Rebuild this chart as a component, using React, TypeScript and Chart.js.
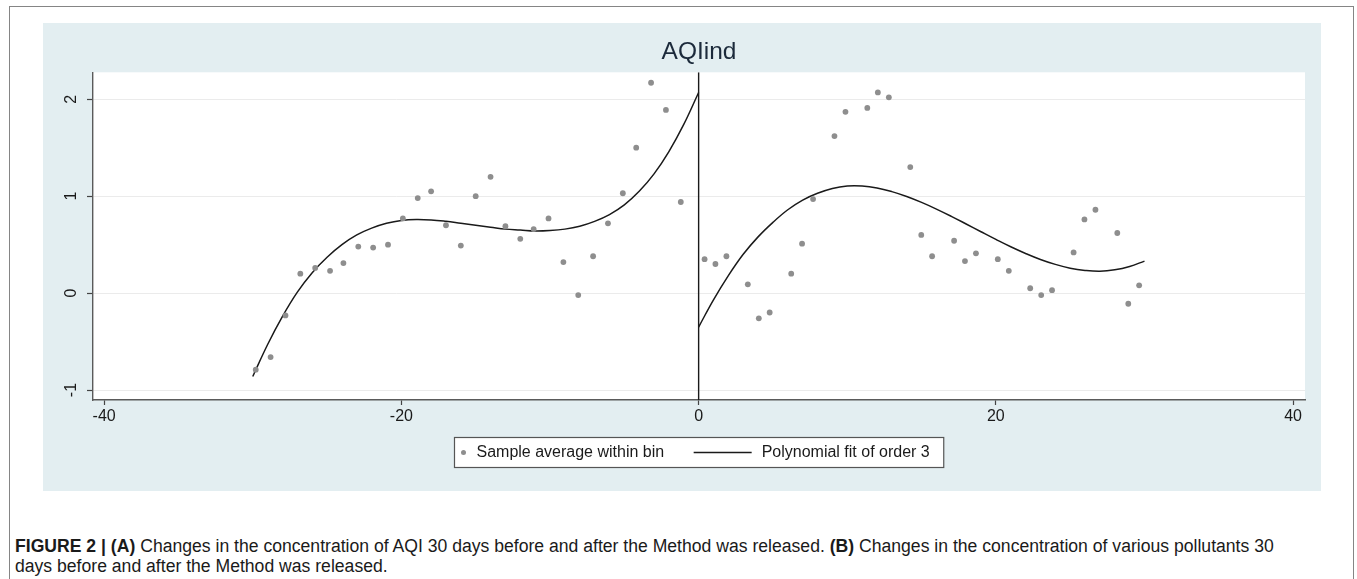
import React, { useEffect, useRef } from "react";
import { Chart, registerables } from "chart.js";

Chart.register(...registerables);

// ---- data ----
const chartTitle = "AQIind";
const legendLabels = ["Sample average within bin", "Polynomial fit of order 3"];

const binX = [
  -29.8, -28.8, -27.8, -26.8, -25.8, -24.8, -23.9, -22.9, -21.9, -20.9,
  -19.9, -18.9, -18.0, -17.0, -16.0, -15.0, -14.0, -13.0, -12.0, -11.1,
  -10.1, -9.1, -8.1, -7.1, -6.1, -5.1, -4.2, -3.2, -2.2, -1.2,
  0.4, 1.13, 1.87, 3.31, 4.05, 4.78, 6.23, 6.96, 7.7, 9.14,
  9.88, 11.35, 12.06, 12.8, 14.24, 14.98, 15.71, 17.19, 17.92, 18.66,
  20.13, 20.87, 22.31, 23.05, 23.78, 25.23, 25.96, 26.7, 28.17, 28.91, 29.64,
];
const binY = [
  -0.79, -0.66, -0.23, 0.2, 0.26, 0.23, 0.31, 0.48, 0.47, 0.5,
  0.77, 0.98, 1.05, 0.7, 0.49, 1.0, 1.2, 0.69, 0.56, 0.66,
  0.77, 0.32, -0.02, 0.38, 0.72, 1.03, 1.5, 2.17, 1.89, 0.94,
  0.35, 0.3, 0.38, 0.09, -0.26, -0.2, 0.2, 0.51, 0.97, 1.62,
  1.87, 1.91, 2.07, 2.02, 1.3, 0.6, 0.38, 0.54, 0.33, 0.41,
  0.35, 0.23, 0.05, -0.02, 0.03, 0.42, 0.76, 0.86, 0.62, -0.11, 0.08,
];

const fitLeftX = [
  -30, -29, -28, -27, -26, -25, -24, -23, -22, -21, -20, -19, -18, -17, -16,
  -15, -14, -13, -12, -11, -10, -9, -8, -7, -6, -5, -4, -3, -2, -1, 0,
];
const fitLeftY = [
  -0.86, -0.53, -0.24, 0.01, 0.21, 0.37, 0.5, 0.6, 0.67, 0.72, 0.75, 0.76, 0.755, 0.74, 0.72,
  0.7, 0.68, 0.66, 0.65, 0.64, 0.645, 0.66, 0.69, 0.74, 0.81, 0.91, 1.05, 1.23, 1.46, 1.74, 2.07,
];

const fitRightX = [
  0, 1, 2, 3, 4, 5, 6, 7, 8, 9, 10, 11, 12, 13, 14, 15,
  16, 17, 18, 19, 20, 21, 22, 23, 24, 25, 26, 27, 28, 29, 30,
];
const fitRightY = [
  -0.35, -0.07, 0.18, 0.4, 0.58, 0.73, 0.86, 0.96, 1.03, 1.08, 1.105, 1.105, 1.085, 1.047, 0.997, 0.936,
  0.867, 0.792, 0.713, 0.633, 0.554, 0.478, 0.409, 0.347, 0.296, 0.257, 0.234, 0.225, 0.24, 0.275, 0.33,
];

const cutoffX = 0;
const xTicks = [-40, -20, 0, 20, 40];
const yTicks = [-1, 0, 1, 2];
const xMin = -40.75;
const xMax = 40.8;
const yMin = -1.103;
const yMax = 2.278;

// ---- styles ----
const PANEL = "#e3eef1";
const FONT = '"Liberation Sans", Arial, Helvetica, sans-serif';
const DOT = "#8e8e8e";
const INK = "#1a1a1a";

const panelPlugin = {
  id: "panelBg",
  beforeDraw(chart: any) {
    const { ctx, chartArea: a, width, height } = chart;
    ctx.save();
    ctx.fillStyle = PANEL;
    ctx.fillRect(0, 0, width, height);
    ctx.fillStyle = "#ffffff";
    ctx.fillRect(a.left, a.top, a.right - a.left, a.bottom - a.top);
    ctx.restore();
  },
};

const legendPlugin = {
  id: "stataLegend",
  afterDraw(chart: any) {
    const { ctx, chartArea: a } = chart;
    const t1 = legendLabels[0];
    const t2 = legendLabels[1];
    ctx.save();
    ctx.font = `16px ${FONT}`;
    const w1 = ctx.measureText(t1).width;
    const w2 = ctx.measureText(t2).width;
    const padL = 22, gap1 = 29.5, lineLen = 58, gap2 = 10, padR = 14;
    const W = padL + w1 + gap1 + lineLen + gap2 + w2 + padR;
    const H = 30;
    const cx = (a.left + a.right) / 2;
    const left = Math.round(cx - W / 2) + 0.5;
    const top = Math.round(a.bottom + 37) + 0.5;
    ctx.fillStyle = "#ffffff";
    ctx.fillRect(left, top, W, H);
    ctx.strokeStyle = "#555555";
    ctx.lineWidth = 1.2;
    ctx.strokeRect(left, top, W, H);
    const midY = top + H / 2;
    ctx.fillStyle = DOT;
    ctx.beginPath();
    ctx.arc(left + 9, midY, 2.5, 0, Math.PI * 2);
    ctx.fill();
    ctx.fillStyle = INK;
    ctx.textBaseline = "middle";
    ctx.textAlign = "left";
    ctx.fillText(t1, left + padL, midY + 0.5);
    const lx = left + padL + w1 + gap1;
    ctx.strokeStyle = INK;
    ctx.lineWidth = 1.4;
    ctx.beginPath();
    ctx.moveTo(lx, midY);
    ctx.lineTo(lx + lineLen, midY);
    ctx.stroke();
    ctx.fillText(t2, lx + lineLen + gap2, midY + 0.5);
    ctx.restore();
  },
};

function pts(xs: number[], ys: number[]) {
  return xs.map((x, i) => ({ x, y: ys[i] }));
}

function AQIChart() {
  const ref = useRef<HTMLCanvasElement | null>(null);
  useEffect(() => {
    if (!ref.current) return;
    const lineStyle = {
      showLine: true,
      borderColor: INK,
      borderWidth: 1.5,
      pointRadius: 0,
      tension: 0.4,
      fill: false,
    };
    const chart = new Chart(ref.current, {
      type: "scatter",
      data: {
        datasets: [
          {
            label: legendLabels[0],
            data: pts(binX, binY),
            pointRadius: 2.9,
            pointBackgroundColor: DOT,
            pointBorderWidth: 0,
            borderWidth: 0,
            showLine: false,
          },
          { label: legendLabels[1], data: pts(fitLeftX, fitLeftY), ...lineStyle },
          { label: "fit right", data: pts(fitRightX, fitRightY), ...lineStyle },
          {
            label: "cutoff",
            data: [
              { x: cutoffX, y: yMin },
              { x: cutoffX, y: yMax },
            ],
            ...lineStyle,
            tension: 0,
            borderWidth: 1.4,
          },
        ],
      },
      options: {
        animation: false,
        responsive: false,
        devicePixelRatio: 1,
        events: [],
        layout: { padding: { left: 0, right: 16, top: 0, bottom: 0 } },
        plugins: {
          legend: { display: false },
          tooltip: { enabled: false },
          title: {
            display: true,
            text: chartTitle,
            fullSize: false,
            color: "#1c2a3b",
            font: { family: FONT, size: 24.5, weight: "normal" },
            padding: { top: 14.7, bottom: 5.2 },
          },
        },
        scales: {
          x: {
            type: "linear",
            min: xMin,
            max: xMax,
            afterBuildTicks: (s: any) => {
              s.ticks = xTicks.map((v) => ({ value: v }));
            },
            afterFit: (s: any) => {
              s.height = 91;
            },
            grid: {
              drawOnChartArea: false,
              drawTicks: true,
              tickLength: 5,
              tickColor: "#444",
              tickWidth: 1.2,
            },
            border: { display: true, color: "#5a5a5a", width: 1.4 },
            ticks: {
              color: INK,
              font: { family: FONT, size: 16 },
              padding: 1.7,
              maxRotation: 0,
              minRotation: 0,
              autoSkip: false,
            },
          },
          y: {
            type: "linear",
            min: yMin,
            max: yMax,
            afterBuildTicks: (s: any) => {
              s.ticks = yTicks.map((v) => ({ value: v }));
            },
            afterFit: (s: any) => {
              s.width = 50;
            },
            grid: {
              color: "#ebebeb",
              lineWidth: 1,
              drawTicks: true,
              tickLength: 6,
              tickColor: "#444",
              tickWidth: 1.2,
            },
            border: { display: true, color: "#5a5a5a", width: 1.4 },
            ticks: {
              color: INK,
              font: { family: FONT, size: 16 },
              padding: 8.5,
              minRotation: 90,
              maxRotation: 90,
              crossAlign: "center",
              autoSkip: false,
            },
          },
        },
      },
      plugins: [panelPlugin, legendPlugin],
    } as any);
    return () => chart.destroy();
  }, []);
  return (
    <canvas
      ref={ref}
      width={1278}
      height={468}
      style={{ position: "absolute", left: 43, top: 23, width: 1278, height: 468 }}
    />
  );
}

export default function App() {
  return (
    <div>
      <style>{`html,body{overflow:hidden;margin:0;background:#fff}`}</style>
      <div
        style={{
          position: "absolute",
          left: 9,
          top: 6,
          width: 1345,
          height: 620,
          border: "1px solid #858585",
          boxSizing: "border-box",
        }}
      />
      <AQIChart />
      <div
        style={{
          position: "absolute",
          left: 15,
          top: 537,
          fontFamily: FONT,
          fontSize: 17.6,
          lineHeight: "19.5px",
          color: INK,
          whiteSpace: "nowrap",
        }}
      >
        <b>FIGURE 2 |</b> <b>(A)</b> Changes in the concentration of AQI 30 days before and after the Method was
        released. <b>(B)</b> Changes in the concentration of various pollutants 30
        <br />
        days before and after the Method was released.
      </div>
    </div>
  );
}
